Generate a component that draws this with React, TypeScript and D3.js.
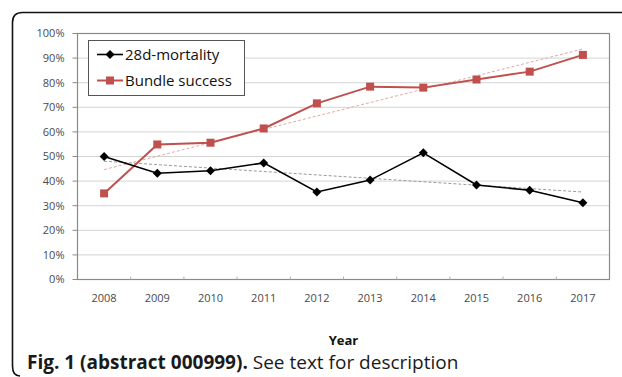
import React from "react";
import * as d3 from "d3";

const years = ["2008", "2009", "2010", "2011", "2012", "2013", "2014", "2015", "2016", "2017"];
const mortality = [50.0, 43.2, 44.2, 47.4, 35.6, 40.4, 51.5, 38.4, 36.3, 31.2];
const bundle = [35.0, 54.9, 55.6, 61.4, 71.6, 78.4, 78.0, 81.3, 84.5, 91.3];
const yTicks = [0, 10, 20, 30, 40, 50, 60, 70, 80, 90, 100];
const seriesNames = ["28d-mortality", "Bundle success"];

const W = 622;
const H = 377;
const plot = { left: 77.5, right: 609.5, top: 33.5, bottom: 279.5 };
const FONT = "'Open Sans', sans-serif";
const RED = "#c0504d";

function linreg(vals: number[]) {
  const n = vals.length;
  const xs = vals.map((_, i) => i);
  const mx = d3.mean(xs) as number;
  const my = d3.mean(vals) as number;
  let sxy = 0;
  let sxx = 0;
  xs.forEach((x, i) => {
    sxy += (x - mx) * (vals[i] - my);
    sxx += (x - mx) * (x - mx);
  });
  const slope = sxy / sxx;
  const b = my - slope * mx;
  return [b, b + slope * (n - 1)];
}

export default function App() {
  const x = d3.scaleBand<string>().domain(years).range([plot.left, plot.right]);
  const y = d3.scaleLinear().domain([0, 100]).range([plot.bottom, plot.top]);
  const cx = (yr: string) => (x(yr) as number) + x.bandwidth() / 2;
  const line = d3
    .line<number>()
    .x((_, i) => cx(years[i]))
    .y((v) => y(v));

  const tM = linreg(mortality);
  const tB = linreg(bundle);
  const first = cx(years[0]);
  const last = cx(years[years.length - 1]);

  const diamond = (px: number, py: number, r: number) =>
    `M${px},${py - r}L${px + r},${py}L${px},${py + r}L${px - r},${py}Z`;

  return (
    <svg
      width={W}
      height={H}
      style={{ position: "absolute", left: 0, top: 0, background: "#fff" }}
      fontFamily={FONT}
    >
      {/* outer frame */}
      <path
        d={`M${W},12.5 L22.5,12.5 Q12.5,12.5 12.5,22.5 L12.5,366 Q12.5,376 20,376`}
        fill="none"
        stroke="#111"
        strokeWidth={1.6}
      />
      {/* gridlines */}
      {yTicks.map((t) => (
        <line
          key={"g" + t}
          x1={plot.left}
          x2={plot.right}
          y1={y(t)}
          y2={y(t)}
          stroke="#d4d4d4"
          strokeWidth={1}
        />
      ))}
      {/* plot border */}
      <rect
        x={plot.left}
        y={plot.top}
        width={plot.right - plot.left}
        height={plot.bottom - plot.top}
        fill="none"
        stroke="#8a8a8a"
        strokeWidth={1.2}
      />
      {/* y ticks */}
      {yTicks.map((t) => (
        <g key={"yt" + t}>
          <line x1={plot.left - 5} x2={plot.left} y1={y(t)} y2={y(t)} stroke="#8a8a8a" />
          <text
            x={plot.left - 13}
            y={y(t)}
            dy="0.35em"
            textAnchor="end"
            fontSize={11}
            fill="#4a4a4a"
          >
            {t}%
          </text>
        </g>
      ))}
      {/* x ticks */}
      {years.map((yr, i) =>
        i > 0 ? (
          <line
            key={"xt" + yr}
            x1={x(yr) as number}
            x2={x(yr) as number}
            y1={plot.bottom - 3}
            y2={plot.bottom}
            stroke="#b0b0b0"
          />
        ) : null
      )}
      {years.map((yr) => (
        <text
          key={"xl" + yr}
          x={cx(yr)}
          y={298}
          dy="0.35em"
          textAnchor="middle"
          fontSize={11}
          fill="#4a4a4a"
        >
          {yr}
        </text>
      ))}
      {/* trend lines */}
      <line
        x1={first}
        x2={last}
        y1={y(tM[0])}
        y2={y(tM[1])}
        stroke="#9a9a9a"
        strokeWidth={1}
        strokeDasharray="3,2"
      />
      <line
        x1={first}
        x2={last}
        y1={y(tB[0])}
        y2={y(tB[1])}
        stroke="#e2aaa4"
        strokeWidth={1}
        strokeDasharray="3,2"
      />
      {/* series lines */}
      <path d={line(bundle) as string} fill="none" stroke={RED} strokeWidth={2} />
      <path d={line(mortality) as string} fill="none" stroke="#000" strokeWidth={1.6} />
      {bundle.map((v, i) => (
        <rect
          key={"b" + i}
          x={cx(years[i]) - 4}
          y={y(v) - 4}
          width={8}
          height={8}
          fill={RED}
        />
      ))}
      {mortality.map((v, i) => (
        <path key={"m" + i} d={diamond(cx(years[i]), y(v), 4.5)} fill="#000" />
      ))}
      {/* legend */}
      <rect x={88.5} y={40.5} width={156} height={55} fill="#fff" stroke="#555" strokeWidth={1} />
      <line x1={97} x2={123} y1={54.5} y2={54.5} stroke="#000" strokeWidth={1.6} />
      <path d={diamond(110, 54.5, 4.5)} fill="#000" />
      <text x={125} y={54.5} dy="0.35em" fontSize={15} fill="#111">
        {seriesNames[0]}
      </text>
      <line x1={97} x2={123} y1={80.5} y2={80.5} stroke={RED} strokeWidth={2} />
      <rect x={106} y={76.5} width={8} height={8} fill={RED} />
      <text x={125} y={80.5} dy="0.35em" fontSize={15} fill="#111">
        {seriesNames[1]}
      </text>
      {/* axis title */}
      <text
        x={(plot.left + plot.right) / 2}
        y={345}
        textAnchor="middle"
        fontSize={13}
        fontWeight="bold"
        fill="#111"
      >
        Year
      </text>
      {/* caption */}
      <text x={27} y={369} fontSize={19} fill="#1a1a1a">
        <tspan fontWeight="bold">Fig. 1 (abstract 000999).</tspan>
        <tspan> See text for description</tspan>
      </text>
    </svg>
  );
}
